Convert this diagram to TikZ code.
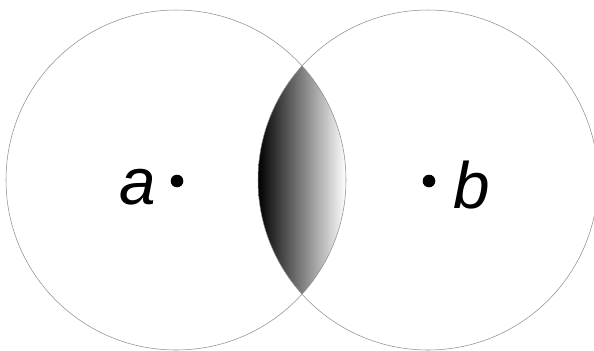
\documentclass[tikz,border=0pt]{standalone}
\usepackage{fontspec}
\setmainfont{Liberation Sans}
\usepackage{tikz}
\usetikzlibrary{positioning}

\tikzset{
  setline/.style={draw=gray!90, line width=0.45pt},
  centredot/.style={fill=black},
  setlabel/.style={font=\fontsize{56}{60}\selectfont\itshape, inner sep=0pt, anchor=base}
}

\begin{document}
\begin{tikzpicture}[x=0.03cm, y=-0.03cm]
        \useasboundingbox (0,0) rectangle (594,350);
        % Centres of the two sets
        \coordinate (ca) at (176,180);
        \coordinate (cb) at (428,180);

        % Overlap, shaded black to white
        \begin{scope}
            \clip (ca) circle (170);
            \clip (cb) circle (170);
            \shade[left color=black, right color=white] (258,0) rectangle (346,350);
        \end{scope}

        % Circles
        \draw[setline] (ca) circle (170);
        \draw[setline] (cb) circle (170);

        % Centre points
        \fill[centredot] (177,181) circle (6.3);
        \fill[centredot] (429,181) circle (6.3);

        % Labels
        \node (labela) [setlabel] at (138,204) {a};
        \node (labelb) [setlabel] at (472,208) {b};
\end{tikzpicture}
\end{document}
